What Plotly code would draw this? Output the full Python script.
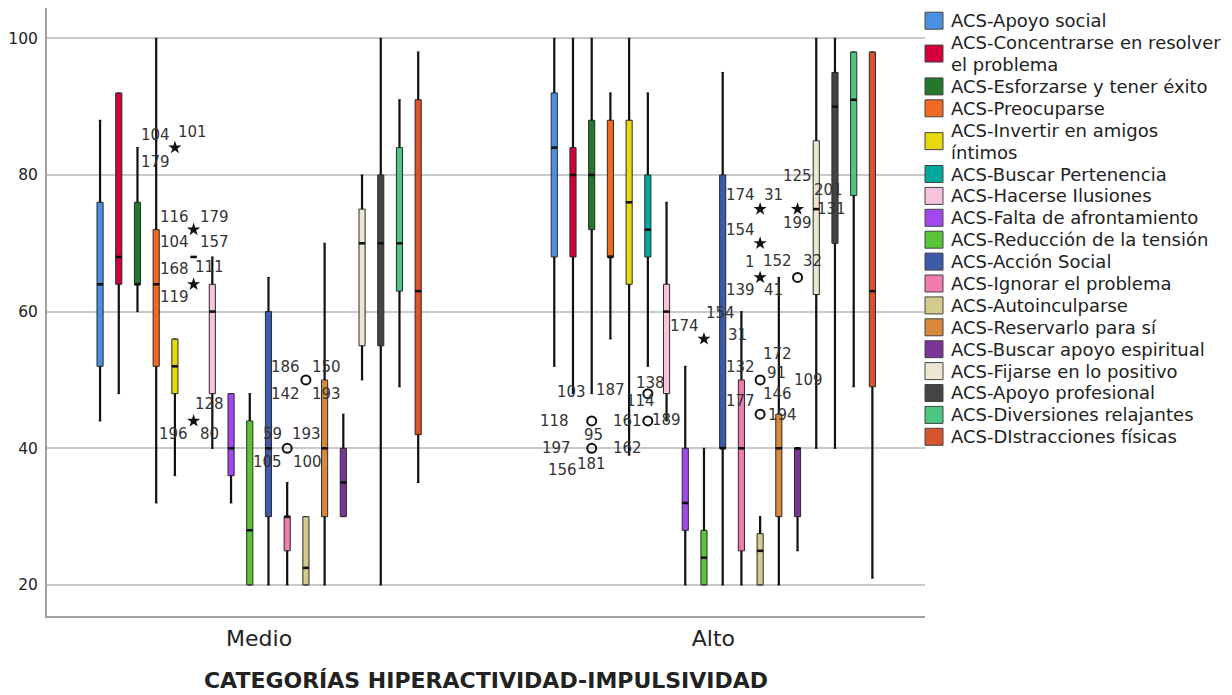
import textwrap
import plotly.graph_objects as go

# ---------------- data ----------------
GROUPS = ["Medio", "Alto"]
SERIES = [
    "ACS-Apoyo social", "ACS-Concentrarse en resolver el problema",
    "ACS-Esforzarse y tener éxito", "ACS-Preocuparse",
    "ACS-Invertir en amigos íntimos", "ACS-Buscar Pertenencia",
    "ACS-Hacerse Ilusiones", "ACS-Falta de afrontamiento",
    "ACS-Reducción de la tensión", "ACS-Acción Social",
    "ACS-Ignorar el problema", "ACS-Autoinculparse",
    "ACS-Reservarlo para sí", "ACS-Buscar apoyo espiritual",
    "ACS-Fijarse en lo positivo", "ACS-Apoyo profesional",
    "ACS-Diversiones relajantes", "ACS-DIstracciones físicas",
]
# per series: [Medio, Alto]
LOWER_WHISKER = [[44, 52], [48, 48], [60, 48], [32, 56], [36, 39], [68, 52],
                 [40, 44], [32, 20], [20, 20], [20, 20], [20, 20], [20, 20],
                 [20, 20], [30, 25], [50, 40], [20, 40], [49, 49], [35, 21]]
Q1 = [[52, 68], [64, 68], [64, 72], [52, 68], [48, 64], [68, 68],
      [48, 48], [36, 28], [20, 20], [30, 40], [25, 25], [20, 20],
      [30, 30], [30, 30], [55, 62.5], [55, 70], [63, 77], [42, 49]]
MEDIAN = [[64, 84], [68, 80], [64, 80], [64, 68], [52, 76], [68, 72],
          [60, 60], [40, 32], [28, 24], [40, 40], [30, 40], [22.5, 25],
          [40, 40], [35, 40], [70, 75], [70, 90], [70, 91], [63, 63]]
Q3 = [[76, 92], [92, 84], [76, 88], [72, 88], [56, 88], [68, 80],
      [64, 64], [48, 40], [44, 28], [60, 80], [30, 50], [30, 27.5],
      [50, 45], [40, 40], [75, 85], [80, 95], [84, 98], [91, 98]]
UPPER_WHISKER = [[88, 100], [92, 100], [84, 100], [100, 92], [56, 100], [68, 92],
                 [68, 76], [48, 52], [48, 40], [65, 95], [35, 60], [30, 30],
                 [70, 65], [45, 40], [80, 100], [100, 100], [91, 98], [98, 98]]

# outliers / extremes: series index, group index, value, kind, case labels
OUT_SERIES = [4, 5, 5, 5, 5, 10, 11, 2, 2, 5, 5, 8, 11, 11, 11, 11, 11, 13, 13, 13]
OUT_GROUP = [0, 0, 0, 0, 0, 0, 0, 1, 1, 1, 1, 1, 1, 1, 1, 1, 1, 1, 1, 1]
OUT_VALUE = [84, 72, 68, 64, 44, 40, 50, 44, 40, 48, 44, 56, 75, 70, 65, 50, 45, 75, 65, 50]
OUT_KIND = ["extreme", "extreme", "label", "extreme", "extreme", "outlier", "outlier",
            "outlier", "outlier", "outlier", "outlier", "extreme", "extreme", "extreme",
            "extreme", "outlier", "outlier", "extreme", "outlier", "label"]
OUT_LABELS = [["104", "101", "179"], ["116", "179"], ["104", "157"],
              ["168", "111", "119"], ["128", "196", "80"],
              ["59", "193", "105", "100"], ["186", "150", "142", "193"],
              ["118", "103", "187", "161", "95"], ["197", "162", "156", "181"],
              ["138"], ["114", "189"], ["174", "154", "31"], ["174", "31"],
              ["154"], ["1", "152", "139", "41"], ["132", "172", "91"],
              ["177", "146", "194"], ["125", "201", "131", "199"], ["32"], ["109"]]

TICK_VALUES = [20, 40, 60, 80, 100]
X_TITLE = "CATEGORÍAS HIPERACTIVIDAD-IMPULSIVIDAD"

# ---------------- style ----------------
COLORS = ["#4a8fe0", "#d4003c", "#23782a", "#f26a22", "#e8d90a", "#00a99d",
          "#f7c3dc", "#a347ef", "#5ac43a", "#3d5ba8", "#f27aac", "#d4cb8e",
          "#d9893a", "#7a3596", "#ede6d3", "#444444", "#4cc683", "#d9532c"]
# pixel offsets (dx, dy up) of each case label relative to its point
LABEL_OFFSETS = [[(-19, 13), (17.7, 15.7), (-19, -14.4)],
                 [(-19.5, 13), (20.5, 13)],
                 [(-19.5, 15), (20.5, 15)],
                 [(-19.5, 15), (15.5, 17), (-19.5, -12.4)],
                 [(15.5, 17.4), (-20, -12.6), (15.5, -12.6)],
                 [(-14.5, 14), (19.5, 14), (-19.5, -14), (20.5, -14)],
                 [(-20, 12.6), (21, 12.6), (-20, -13.7), (21, -13.7)],
                 [(-37.7, 0), (-20, 28.7), (18.3, 31.4), (35.3, 0), (1.3, -13.6)],
                 [(-35.7, 0), (35.3, 0), (-29.7, -21.4), (0, -15.7)],
                 [(3, 10.7)],
                 [(-7, 19.7), (19, 1.4)],
                 [(-19.5, 13), (17, 26), (33.5, 4)],
                 [(-19.4, 14), (13.6, 14)],
                 [(-19.4, 13.4)],
                 [(-10.4, 15), (17, 16.6), (-19.4, -12.4), (13.6, -12.4)],
                 [(-19.4, 12.6), (17, 25.6), (16, 6.5)],
                 [(-19.4, 13.3), (17, 20), (22, -0.5)],
                 [(0, 33), (31, 19), (34, 0), (0, -14)],
                 [(14.7, 16)],
                 [(11, 0)]]

PAGE_OFFSET = 8            # default body margin of the html page
W, H = 1232 - PAGE_OFFSET, 695 - PAGE_OFFSET
PLOT_LEFT, PLOT_RIGHT, PLOT_TOP, PLOT_BOTTOM = 47, 925, 8, 616   # page pixels
ML = PLOT_LEFT - PAGE_OFFSET
MT = PLOT_TOP - PAGE_OFFSET
MR = W - (PLOT_RIGHT - PAGE_OFFSET)
MB = H - (PLOT_BOTTOM - PAGE_OFFSET)
PLOT_W = PLOT_RIGHT - PLOT_LEFT
PLOT_H = PLOT_BOTTOM - PLOT_TOP
X_RANGE = [-0.467, 1.466]
Y_RANGE = [15.46, 104.43]
SPACING = 0.0412
BOX_W = 0.0135
FONT = "DejaVu Sans"
TEXT_COLOR = "#222222"


def pos(group, i):
    return group + (i - (len(SERIES) - 1) / 2) * SPACING


fig = go.Figure()

for i, name in enumerate(SERIES):
    fig.add_trace(go.Box(
        name=name,
        x=[pos(g, i) for g in range(len(GROUPS))],
        q1=Q1[i], median=MEDIAN[i], q3=Q3[i],
        lowerfence=LOWER_WHISKER[i], upperfence=UPPER_WHISKER[i],
        width=BOX_W, whiskerwidth=0.45,
        fillcolor=COLORS[i],
        line=dict(color="#2a2a2a", width=1),
        boxpoints=False, showlegend=False, hoverinfo="skip",
    ))

# heavier whiskers and medians, as in the SPSS output
wx, wy, mx, my = [], [], [], []
for i in range(len(SERIES)):
    for g in range(len(GROUPS)):
        p = pos(g, i)
        wx += [p, p, None, p, p, None]
        wy += [LOWER_WHISKER[i][g], Q1[i][g], None, Q3[i][g], UPPER_WHISKER[i][g], None]
        mx += [p - BOX_W / 2, p + BOX_W / 2, None]
        my += [MEDIAN[i][g], MEDIAN[i][g], None]
fig.add_trace(go.Scatter(x=wx, y=wy, mode="lines", showlegend=False, hoverinfo="skip",
                         line=dict(color="#111111", width=2.2)))
fig.add_trace(go.Scatter(x=mx, y=my, mode="lines", showlegend=False, hoverinfo="skip",
                         line=dict(color="#111111", width=2.6)))

for kind, symbol, size, lw in [("extreme", "star", 10, 0), ("outlier", "circle-open", 9, 2)]:
    idx = [k for k, kd in enumerate(OUT_KIND) if kd == kind]
    fig.add_trace(go.Scatter(
        x=[pos(OUT_GROUP[k], OUT_SERIES[k]) for k in idx],
        y=[OUT_VALUE[k] for k in idx],
        mode="markers", showlegend=False, hoverinfo="skip",
        marker=dict(symbol=symbol, size=size, color="#111111",
                    line=dict(color="#111111", width=lw)),
    ))

annotations = []
for k in range(len(OUT_VALUE)):
    for lab, (dx, dy) in zip(OUT_LABELS[k], LABEL_OFFSETS[k]):
        annotations.append(dict(
            x=pos(OUT_GROUP[k], OUT_SERIES[k]), y=OUT_VALUE[k], xref="x", yref="y",
            text=lab, showarrow=False, xanchor="center", yanchor="middle",
            xshift=dx, yshift=dy, font=dict(family=FONT, size=15, color="#333333"),
        ))


# ---------- legend drawn at the right ----------
def paper_x(px):
    return (px - PLOT_LEFT) / PLOT_W


def paper_y(py):
    return (PLOT_BOTTOM - py) / PLOT_H


LEG_TOP = 20.7
LEG_LINE = 21.9
LEG_SQ_X0, LEG_SQ_X1 = 925, 943
LEG_TEXT_X = 949
shapes = []
line_no = 0
for i, name in enumerate(SERIES):
    lines = textwrap.wrap(name, 28, break_on_hyphens=False)
    centers = [LEG_TOP + (line_no + j) * LEG_LINE for j in range(len(lines))]
    for txt, cy in zip(lines, centers):
        annotations.append(dict(
            x=paper_x(LEG_TEXT_X), y=paper_y(cy), xref="paper", yref="paper",
            text=txt, showarrow=False, xanchor="left", yanchor="middle",
            font=dict(family=FONT, size=18, color=TEXT_COLOR),
        ))
    cy = sum(centers) / len(centers)
    shapes.append(dict(
        type="rect", xref="paper", yref="paper",
        x0=paper_x(LEG_SQ_X0), x1=paper_x(LEG_SQ_X1),
        y0=paper_y(cy + 8.5), y1=paper_y(cy - 8.5),
        fillcolor=COLORS[i], line=dict(color="#444444", width=1),
    ))
    line_no += len(lines)

fig.update_layout(
    width=W, height=H,
    margin=dict(l=ML, r=MR, t=MT, b=MB, pad=0),
    paper_bgcolor="white", plot_bgcolor="white",
    boxmode="overlay",
    font=dict(family=FONT, color=TEXT_COLOR),
    annotations=annotations, shapes=shapes,
    xaxis=dict(
        range=X_RANGE, tickvals=list(range(len(GROUPS))), ticktext=GROUPS,
        showgrid=False, zeroline=False, showline=True, linecolor="#a0a0a0",
        linewidth=2, ticks="", ticklabelstandoff=2,
        tickfont=dict(family=FONT, size=22, color=TEXT_COLOR),
        title=dict(text=X_TITLE, standoff=22,
                   font=dict(family=FONT, size=22, color=TEXT_COLOR, weight="bold")),
    ),
    yaxis=dict(
        range=Y_RANGE, tickvals=TICK_VALUES, showgrid=True, gridcolor="#c9c9c9",
        gridwidth=1.5, zeroline=False, showline=True, linecolor="#a0a0a0",
        linewidth=2, ticks="", ticklabelstandoff=4,
        tickfont=dict(family=FONT, size=15.5, color=TEXT_COLOR),
    ),
)

fig.write_html("out.html")
